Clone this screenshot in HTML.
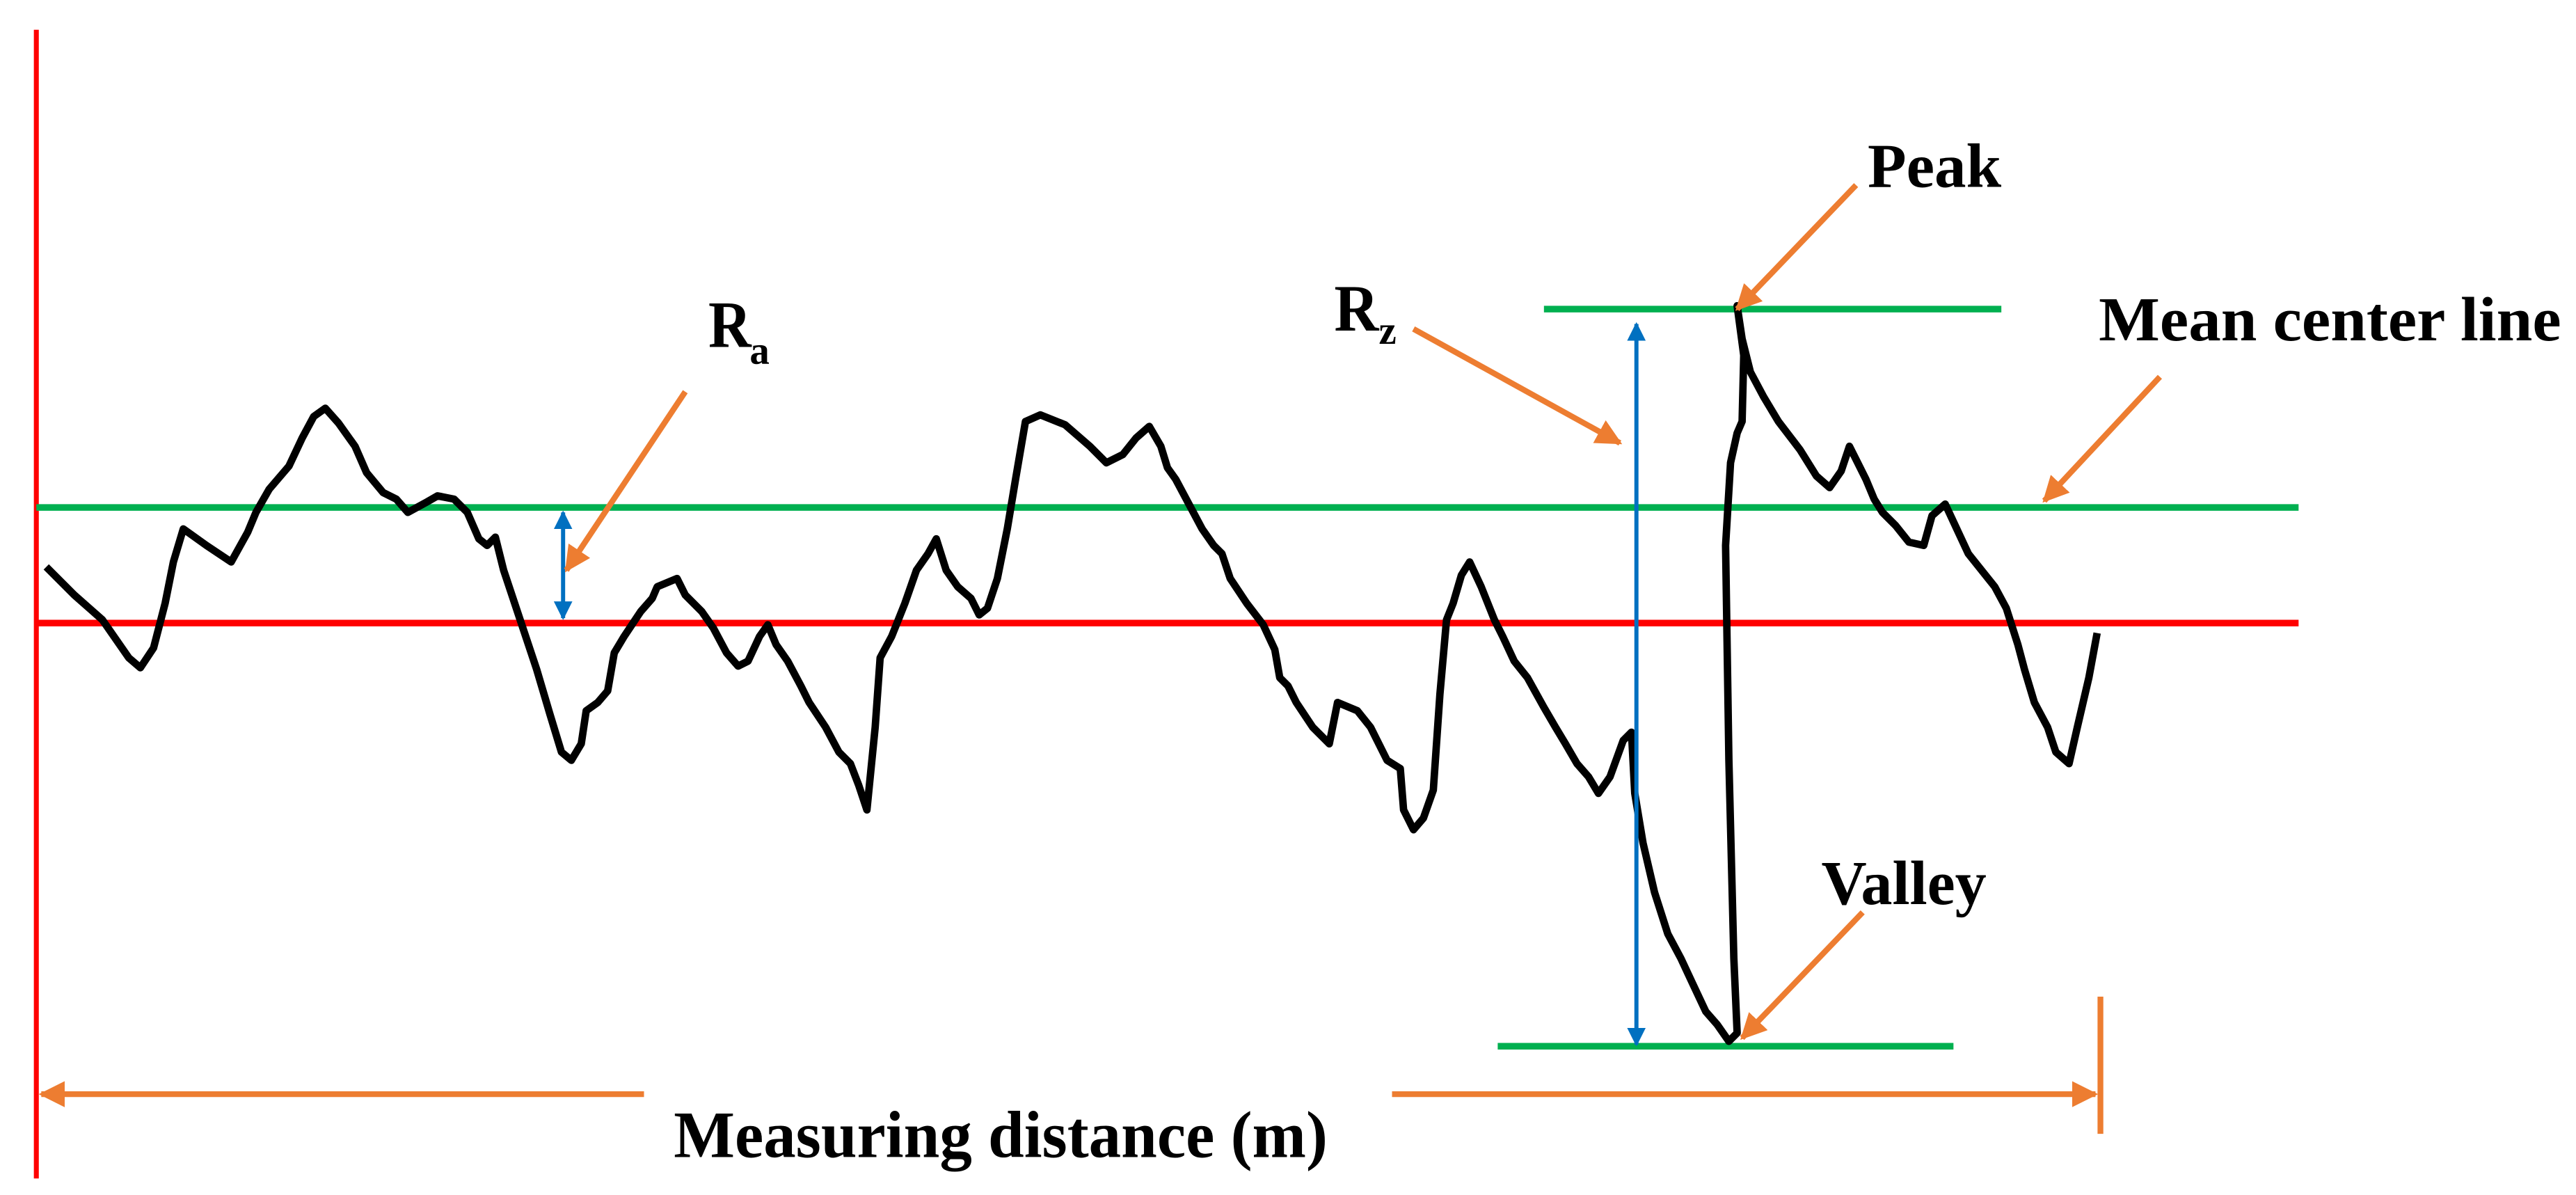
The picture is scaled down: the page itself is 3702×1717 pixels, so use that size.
<!DOCTYPE html>
<html><head><meta charset="utf-8"><style>html,body{margin:0;padding:0;background:#fff}svg{display:block}</style></head>
<body>
<svg width="3702" height="1717" viewBox="0 0 1560 723" preserveAspectRatio="none" xmlns="http://www.w3.org/2000/svg">
<defs>
<marker id="ob" viewBox="0 0 10 10" refX="9" refY="5" markerWidth="4.5" markerHeight="4.5" orient="auto-start-reverse" markerUnits="strokeWidth"><path d="M0,0 L10,5 L0,10 z" fill="#ed7d31"/></marker>
<marker id="bb" viewBox="0 0 10 10" refX="9" refY="5" markerWidth="4.5" markerHeight="4.5" orient="auto-start-reverse" markerUnits="strokeWidth"><path d="M0,0 L10,5 L0,10 z" fill="#0070c0"/></marker>
</defs>
<rect width="1560" height="723" fill="#fff"/>
<line x1="22" y1="18" x2="22" y2="713" stroke="#ff0000" stroke-width="3"/>
<line x1="22" y1="307" x2="1392" y2="307" stroke="#00b050" stroke-width="4"/>
<line x1="22" y1="377" x2="1392" y2="377" stroke="#ff0000" stroke-width="4"/>
<line x1="935" y1="187" x2="1212" y2="187" stroke="#00b050" stroke-width="4"/>
<line x1="907" y1="633" x2="1183" y2="633" stroke="#00b050" stroke-width="4"/>
<polyline fill="none" stroke="#000" stroke-width="4.5" stroke-linejoin="round" points="28,343 45,360 62,375 78,398 85,404 93,392 100,365 105,340 111,320 125,330 140,340 150,322 155,310 163,296 175,282 183,265 190,252 197,247 205,256 215,270 222,286 232,298 240,302 247,310 258,304 265,300 275,302 283,310 290,326 295,330 300,325 305,345 315,375 325,405 333,432 340,455 346,460 352,450 355,430 362,425 368,418 372,395 378,385 388,370 395,362 398,355 410,350 415,360 425,370 432,380 440,395 447,403 453,400 460,385 465,378 470,390 477,400 485,415 490,425 500,440 508,455 515,462 520,475 525,490 530,440 533,398 540,385 548,365 555,345 562,335 567,326 573,345 580,355 588,362 593,372 598,368 604,350 610,320 615,290 621,255 630,251 645,257 660,270 670,280 680,275 688,265 696,258 703,270 707,283 712,290 720,305 728,320 735,330 740,335 745,350 755,365 765,378 772,393 775,410 780,415 785,425 795,440 805,450 810,425 822,430 830,440 840,460 848,465 850,490 856,502 862,495 868,478 872,420 876,375 880,365 885,348 890,340 897,355 905,375 910,385 917,400 925,410 935,428 942,440 948,450 955,462 962,470 968,480 975,470 983,448 988,443 990,480 995,510 1002,540 1010,565 1018,580 1025,595 1033,612 1040,620 1047,630 1052,625 1050,580 1047,460 1045,330 1048,280 1052,262 1055,255 1056,215 1052,185 1055,205 1060,225 1068,240 1077,255 1090,272 1100,288 1108,295 1115,285 1120,270 1124,278 1130,290 1135,302 1140,310 1148,318 1156,328 1165,330 1170,312 1178,305 1185,320 1192,335 1200,345 1208,355 1215,368 1222,390 1226,405 1232,425 1240,440 1245,455 1253,462 1258,440 1265,410 1270,383"/>
<line x1="991" y1="196" x2="991" y2="632" stroke="#0070c0" stroke-width="2.5" marker-start="url(#bb)" marker-end="url(#bb)"/>
<line x1="341" y1="310" x2="341" y2="374" stroke="#0070c0" stroke-width="2.5" marker-start="url(#bb)" marker-end="url(#bb)"/>
<g stroke="#ed7d31" stroke-width="3.5" fill="none">
<line x1="415" y1="237" x2="343" y2="345" marker-end="url(#ob)"/>
<line x1="856" y1="199" x2="981" y2="268" marker-end="url(#ob)"/>
<line x1="1124" y1="112" x2="1052" y2="187" marker-end="url(#ob)"/>
<line x1="1308" y1="228" x2="1238" y2="303" marker-end="url(#ob)"/>
<line x1="1128" y1="552" x2="1055" y2="628" marker-end="url(#ob)"/>
<line x1="390" y1="662" x2="25" y2="662" marker-end="url(#ob)"/>
<line x1="843" y1="662" x2="1269" y2="662" marker-end="url(#ob)"/>
<line x1="1272" y1="603" x2="1272" y2="686"/>
</g>
<g font-family="'Liberation Serif',serif" font-weight="bold" fill="#000">
<text x="1131" y="113" font-size="38" textLength="81" lengthAdjust="spacingAndGlyphs">Peak</text>
<text x="1271" y="206" font-size="38" textLength="280" lengthAdjust="spacingAndGlyphs">Mean center line</text>
<text x="429" y="210" font-size="40" textLength="26" lengthAdjust="spacingAndGlyphs">R</text>
<text x="454" y="220" font-size="24">a</text>
<text x="808" y="200" font-size="40" textLength="27" lengthAdjust="spacingAndGlyphs">R</text>
<text x="835" y="208" font-size="24">z</text>
<text x="1103" y="547" font-size="38" textLength="100" lengthAdjust="spacingAndGlyphs">Valley</text>
<text x="408" y="700" font-size="40" textLength="396" lengthAdjust="spacingAndGlyphs">Measuring distance (m)</text>
</g>
</svg>
</body></html>
